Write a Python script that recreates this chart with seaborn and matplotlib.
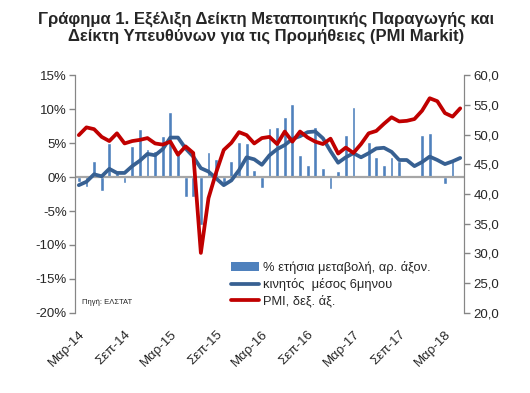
import matplotlib
matplotlib.use("Agg")
import pandas as pd
import matplotlib.pyplot as plt
import seaborn as sns
from matplotlib.ticker import FuncFormatter, MultipleLocator
from matplotlib.patches import Patch
from matplotlib.lines import Line2D

# Monthly categories, Mar-14 ... May-18
GR_MONTHS = ["Ιαν", "Φεβ", "Μαρ", "Απρ", "Μαϊ", "Ιουν",
             "Ιουλ", "Αυγ", "Σεπ", "Οκτ", "Νοε", "Δεκ"]
months = [f"{GR_MONTHS[(2 + i) % 12]}-{14 + (2 + i) // 12}" for i in range(51)]

# % annual change of manufacturing production (left axis)
ip_change = [-0.8, -1.5, 2.3, -2.1, 5.0, 0.6, -0.9, 4.6, 7.0, 4.1,
             3.8, 6.0, 9.6, 4.0, -2.9, -3.0, -7.1, 3.75, 2.7, -1.0,
             2.3, 5.2, 5.0, 1.1, -1.65, 7.2, 7.3, 8.8, 10.7, 3.2,
             1.8, 7.3, 1.35, -1.8, 0.85, 6.2, 10.3, -0.2, 5.1, 3.0,
             1.75, 2.9, 2.4, 0.1, 0.1, 6.2, 6.4, 0.1, -1.1, 2.4,
             None]

# 6-month moving average (left axis)
ip_ma6 = [-1.2, -0.7, 0.4, 0.1, 1.2, 0.6, 0.6, 1.6, 2.4, 3.4,
          3.2, 4.1, 5.8, 5.8, 4.2, 3.0, 1.3, 0.8, -0.2, -1.2,
          -0.5, 1.0, 2.9, 2.6, 1.8, 3.2, 4.1, 4.7, 5.6, 6.0,
          6.6, 6.7, 5.7, 3.8, 2.1, 2.9, 3.5, 2.9, 3.5, 4.2,
          4.3, 3.7, 2.5, 2.5, 1.6, 2.2, 3.0, 2.5, 1.9, 2.3,
          2.8]

# PMI Markit (right axis)
pmi = [49.9, 51.2, 50.9, 49.6, 48.9, 50.2, 48.5, 48.9, 49.1, 49.4,
       48.5, 48.3, 48.8, 46.6, 48.0, 46.9, 30.1, 39.3, 43.6, 47.4,
       48.6, 50.4, 49.9, 48.5, 49.4, 49.6, 48.4, 50.5, 48.8, 50.5,
       49.5, 48.8, 48.4, 49.3, 46.8, 47.8, 46.9, 48.4, 50.2, 50.6,
       51.8, 52.9, 52.2, 52.3, 52.6, 54.0, 56.1, 55.6, 53.6, 53.0,
       54.4]

BAR_COLOR = "#4F81BD"
MA_COLOR = "#376092"
PMI_COLOR = "#C00000"
AXIS_GRAY = "#868686"

df = pd.DataFrame({"month": months, "change": ip_change,
                   "ma6": ip_ma6, "pmi": pmi})
df["change"] = df["change"].astype(float)
df["pos"] = range(len(df))

sns.set_style("white")
plt.rcParams["font.family"] = ["Liberation Sans", "DejaVu Sans"]

fig = plt.figure(figsize=(5.3, 3.93), dpi=100)
ax = fig.add_axes([0.1415, 0.2036, 0.7340, 0.6055])

sns.barplot(data=df, x="pos", y="change", color=BAR_COLOR, saturation=1,
            width=0.5, ax=ax, order=list(df["pos"]))
ax.axhline(0, color="#A6A6A6", lw=1.6, zorder=1.5)
sns.lineplot(data=df, x="pos", y="ma6", color=MA_COLOR, lw=2.7, ax=ax,
             solid_capstyle="round", solid_joinstyle="round")

ax2 = ax.twinx()
sns.lineplot(data=df, x="pos", y="pmi", color=PMI_COLOR, lw=2.7, ax=ax2,
             solid_capstyle="round", solid_joinstyle="round")

ax.set_xlim(-0.5, len(df) - 0.5)
ax.set_ylim(-20, 15)
ax2.set_ylim(20, 60)
ax.yaxis.set_major_locator(MultipleLocator(5))
ax2.yaxis.set_major_locator(MultipleLocator(5))
ax.yaxis.set_major_formatter(FuncFormatter(lambda v, p: f"{v:.0f}%"))
ax2.yaxis.set_major_formatter(
    FuncFormatter(lambda v, p: f"{v:.1f}".replace(".", ",")))

tick_pos = list(range(0, len(df), 6))
ax.set_xticks(tick_pos)
ax.set_xticklabels([months[i] for i in tick_pos], rotation=45, ha="right",
                   va="top", rotation_mode="anchor", fontsize=9.5)
ax.tick_params(axis="x", length=0, pad=11)
ax.tick_params(axis="y", length=4, width=1, color=AXIS_GRAY, labelsize=9.5,
               left=True, direction="out", pad=2)
ax2.tick_params(axis="y", length=4, width=1, color=AXIS_GRAY, labelsize=9.5,
                right=True, direction="out", pad=3)
ax.set_xlabel("")
ax.set_ylabel("")
ax2.set_ylabel("")

for a in (ax, ax2):
    a.spines["top"].set_visible(False)
    a.spines["bottom"].set_visible(False)
    a.spines["left"].set_color(AXIS_GRAY)
    a.spines["right"].set_color(AXIS_GRAY)

handles = [
    Patch(facecolor=BAR_COLOR, edgecolor="none"),
    Line2D([], [], color=MA_COLOR, lw=2.7),
    Line2D([], [], color=PMI_COLOR, lw=2.7),
]
labels = ["% ετήσια μεταβολή, αρ. άξον.", "κινητός  μέσος 6μηνου",
          "PMI, δεξ. άξ."]
ax2.legend(handles, labels, loc="lower left", bbox_to_anchor=(0.38, -0.01),
           frameon=False, fontsize=9.3, handlelength=2.2, handletextpad=0.3,
           labelspacing=0.3, borderaxespad=0.2)

ax.text(0.018, 0.03, "Πηγή: ΕΛΣΤΑΤ", transform=ax.transAxes, fontsize=5.5,
        ha="left", va="bottom")

fig.text(0.502, 1 - 28 / 393,
         "Γράφημα 1. Εξέλιξη Δείκτη Μεταποιητικής Παραγωγής και\n"
         "Δείκτη Υπευθύνων για τις Προμήθειες (PMI Markit)",
         ha="center", va="center", fontsize=12, fontweight="bold",
         linespacing=1.12)

fig.savefig("out.png", dpi=100)
